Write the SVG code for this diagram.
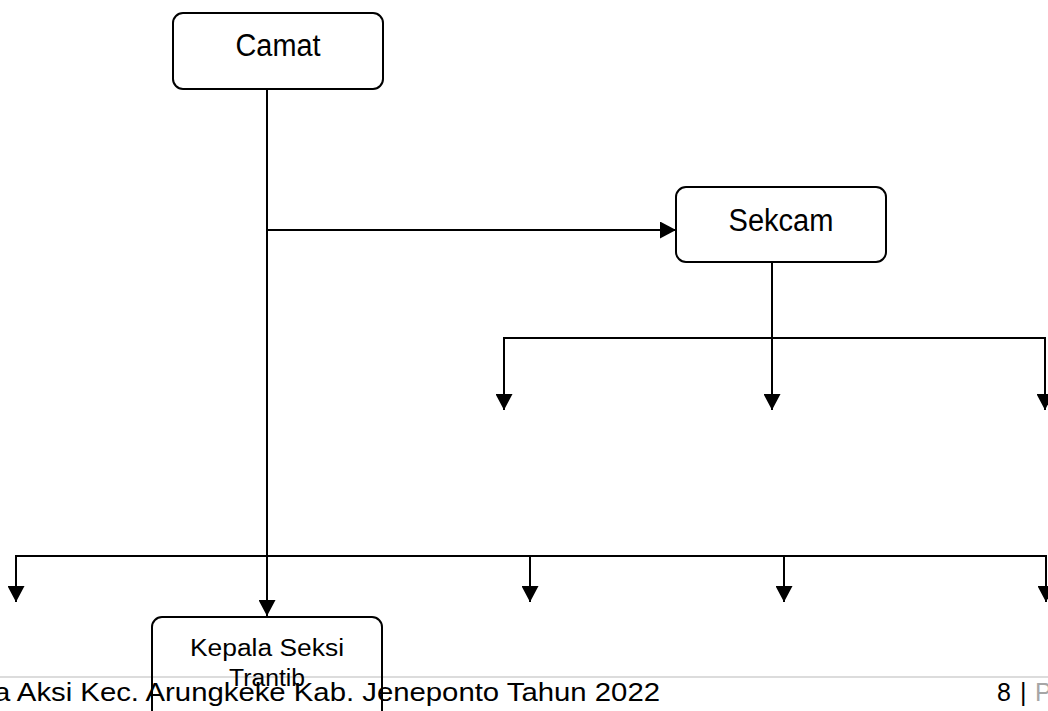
<svg xmlns="http://www.w3.org/2000/svg" width="1048" height="711" viewBox="0 0 1048 711">
<style>
.box{fill:#fff;stroke:#000;stroke-width:2}
.lbl{font-family:"Liberation Sans",Arial,sans-serif;fill:#000;text-anchor:middle}
.ln{fill:none;stroke:#000;stroke-width:2}
.ft{font-family:"Liberation Sans",Arial,sans-serif;font-size:25px;fill:#000}
</style>
<defs>
<marker id="ah" markerUnits="userSpaceOnUse" markerWidth="17" markerHeight="17" refX="16" refY="8.5" orient="auto">
<path d="M0,0 L16,8.5 L0,17 z" fill="#000"/>
</marker>
</defs>
<rect width="1048" height="711" fill="#fff"/>
<g id="footer">
<line x1="0" y1="677" x2="1048" y2="677" stroke="#d0d0d0" stroke-width="1.5"/>
</g>
<g id="connectors">
<line class="ln" x1="267" y1="89" x2="267" y2="616" marker-end="url(#ah)"/>
<line class="ln" x1="267" y1="230" x2="676" y2="230" marker-end="url(#ah)"/>
<line class="ln" x1="772" y1="262" x2="772" y2="410" marker-end="url(#ah)"/>
<polyline class="ln" points="504,410 504,338 1045,338"/>
<line class="ln" x1="504" y1="338" x2="504" y2="410" marker-end="url(#ah)"/>
<line class="ln" x1="1045" y1="337" x2="1045" y2="410" marker-end="url(#ah)"/>
<line class="ln" x1="16" y1="556" x2="1046" y2="556"/>
<line class="ln" x1="16" y1="555" x2="16" y2="602" marker-end="url(#ah)"/>
<line class="ln" x1="530" y1="556" x2="530" y2="602" marker-end="url(#ah)"/>
<line class="ln" x1="784" y1="556" x2="784" y2="602" marker-end="url(#ah)"/>
<line class="ln" x1="1046" y1="555" x2="1046" y2="602" marker-end="url(#ah)"/>
</g>
<g id="camat">
<rect class="box" x="173" y="13" width="210" height="76" rx="10"/>
<text class="lbl" x="278" y="56" font-size="31" textLength="85" lengthAdjust="spacingAndGlyphs">Camat</text>
</g>
<g id="sekcam">
<rect class="box" x="676" y="187" width="210" height="75" rx="10"/>
<text class="lbl" x="781" y="231" font-size="31" textLength="105" lengthAdjust="spacingAndGlyphs">Sekcam</text>
</g>
<g id="kepala-seksi-trantib">
<rect class="box" x="152" y="617" width="230" height="104" rx="10" style="fill:none"/>
<text class="lbl" x="267" y="656" font-size="23" textLength="154" lengthAdjust="spacingAndGlyphs">Kepala Seksi</text>
<text class="lbl" x="267" y="686" font-size="23" textLength="76" lengthAdjust="spacingAndGlyphs">Trantib</text>
</g>
<g id="footer-text">
<text class="ft" x="-6" y="701" textLength="666" lengthAdjust="spacingAndGlyphs">a Aksi Kec. Arungkeke Kab. Jeneponto Tahun 2022</text>
<text class="ft" x="997" y="701">8</text>
<text class="ft" x="1020" y="701">|</text>
<text class="ft" x="1035" y="701" style="fill:#a6a6a6">P</text>
</g>
</svg>
